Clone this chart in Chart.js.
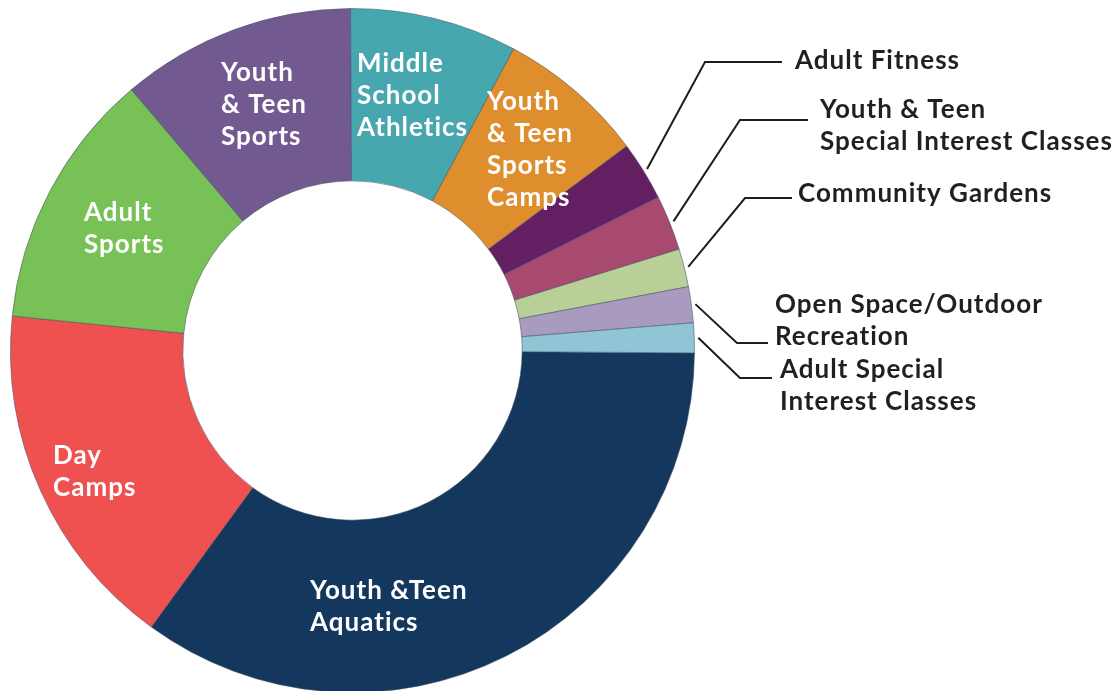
<!DOCTYPE html>
<html>
<head>
<meta charset="utf-8">
<script src="https://cdn.jsdelivr.net/npm/chart.js@4"></script>
<style>
  html, body { margin: 0; padding: 0; background: #fff; overflow: hidden; }
  #wrap { position: relative; width: 1118px; height: 700px; }
</style>
</head>
<body>
<div id="wrap"><canvas id="programChart"></canvas></div>
<script>
// 프로그램 분포 (percent of participation)
const categories = [
  'Youth & Teen Aquatics',
  'Day Camps',
  'Adult Sports',
  'Youth & Teen Sports',
  'Middle School Athletics',
  'Youth & Teen Sports Camps',
  'Adult Fitness',
  'Youth & Teen Special Interest Classes',
  'Community Gardens',
  'Open Space/Outdoor Recreation',
  'Adult Special Interest Classes'
];
const shares = [34.9, 16.6, 12.2, 11.1, 7.9, 7.0, 2.8, 2.6, 1.8, 1.7, 1.4];
const sliceColors = [
  '#14375d', '#ef5150', '#77c157', '#725a91', '#46a7ae', '#de8e2d',
  '#631f62', '#a8496f', '#b9cf97', '#a99bbf', '#90c5d6'
];

// label text lines, drawn inside or beside the ring
const insideLabels = [
  { i: 0, x: 310, y: 591, lines: ['Youth &Teen', 'Aquatics'] },
  { i: 1, x: 53, y: 456, lines: ['Day', 'Camps'] },
  { i: 2, x: 84, y: 213, lines: ['Adult', 'Sports'] },
  { i: 3, x: 221, y: 73, lines: ['Youth', '& Teen', 'Sports'] },
  { i: 4, x: 357, y: 64, lines: ['Middle', 'School', 'Athletics'] },
  { i: 5, x: 487, y: 102, lines: ['Youth', '& Teen', 'Sports', 'Camps'] }
];
const outsideLabels = [
  { i: 6, elbow: [705, 62], end: 782, x: 795, y: 61, lines: ['Adult Fitness'] },
  { i: 7, elbow: [740, 120], end: 808, x: 820, y: 110, lines: ['Youth & Teen', 'Special Interest Classes'] },
  { i: 8, elbow: [745, 198], end: 792, x: 798, y: 194, lines: ['Community Gardens'] },
  { i: 9, elbow: [737, 343], end: 768, x: 775, y: 305, lines: ['Open Space/Outdoor', 'Recreation'] },
  { i: 10, elbow: [740, 378], end: 772, x: 780, y: 370, lines: ['Adult Special', 'Interest Classes'] }
];

const labelFont = '700 26px Lato';
const lineGap = 32;

const labelPlugin = {
  id: 'ringLabels',
  afterDraw(chart) {
    const ctx = chart.ctx;
    const arcs = chart.getDatasetMeta(0).data;
    ctx.save();
    ctx.font = labelFont;
    ctx.letterSpacing = '1px';
    ctx.textAlign = 'left';
    ctx.textBaseline = 'middle';

    ctx.fillStyle = '#ffffff';
    insideLabels.forEach(function(l) {
      l.lines.forEach(function(t, k) {
        ctx.fillText(t, l.x, l.y + k * lineGap);
      });
    });

    ctx.strokeStyle = '#1e1e1e';
    ctx.lineWidth = 2;
    ctx.fillStyle = '#231f20';
    outsideLabels.forEach(function(l) {
      const a = arcs[l.i];
      const mid = (a.startAngle + a.endAngle) / 2;
      const r = a.outerRadius + 4;
      ctx.beginPath();
      ctx.moveTo(a.x + Math.cos(mid) * r, a.y + Math.sin(mid) * r);
      ctx.lineTo(l.elbow[0], l.elbow[1]);
      ctx.lineTo(l.end, l.elbow[1]);
      ctx.stroke();
      l.lines.forEach(function(t, k) {
        ctx.fillText(t, l.x, l.y + k * lineGap);
      });
    });
    ctx.restore();
  }
};

document.addEventListener('DOMContentLoaded', function() {
  const el = document.getElementById('programChart');
  new Chart(el, {
    type: 'doughnut',
    data: {
      labels: categories,
      datasets: [{
        data: shares,
        backgroundColor: sliceColors,
        borderColor: 'rgba(70, 80, 100, 0.55)',
        borderWidth: 1,
        hoverOffset: 0
      }]
    },
    options: {
      responsive: true,
      maintainAspectRatio: false,
      animation: false,
      rotation: 90.4,
      cutout: '49.6%',
      layout: { padding: { left: 10, top: 8, right: 423, bottom: 7 } },
      plugins: {
        legend: { display: false },
        tooltip: { enabled: false }
      }
    },
    plugins: [labelPlugin]
  });
});
</script>
</body>
</html>
